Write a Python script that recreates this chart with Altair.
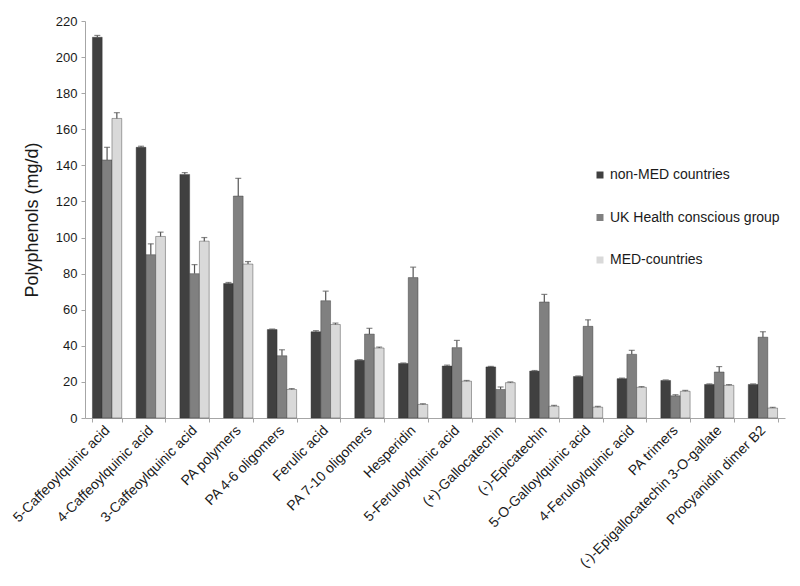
import altair as alt
import pandas as pd

categories = ["5-Caffeoylquinic acid", "4-Caffeoylquinic acid", "3-Caffeoylquinic acid",
              "PA polymers", "PA 4-6 oligomers", "Ferulic acid", "PA 7-10 oligomers",
              "Hesperidin", "5-Feruloylquinic acid", "(+)-Gallocatechin", "(-)-Epicatechin",
              "5-O-Galloylquinic acid", "4-Feruloylquinic acid", "PA trimers",
              "(-)-Epigallocatechin 3-O-gallate", "Procyanidin dimer B2"]
groups = ["non-MED countries", "UK Health conscious group", "MED-countries"]

non_med = [211, 150, 135, 74.5, 49, 47.8, 32, 30.2, 28.8, 28.3, 26, 23, 21.8, 20.8, 18.6, 18.6]
non_med_err = [1, 0.6, 1, 0.6, 0.3, 0.6, 0.3, 0.3, 0.5, 0.3, 0.3, 0.3, 0.3, 0.3, 0.3, 0.3]
uk = [143, 90.5, 80, 123, 34.5, 65, 46.5, 77.8, 39, 15.8, 64.3, 50.8, 35.3, 12.3, 25.5, 44.8]
uk_err = [7, 6, 5, 9.8, 3.3, 5.3, 3.2, 5.8, 4, 1.4, 4.2, 3.6, 2.2, 0.6, 3, 3]
med = [166, 100.6, 98, 85.3, 15.8, 51.8, 38.8, 7.5, 20.4, 19.6, 6.5, 6, 17, 14.8, 18.1, 5.5]
med_err = [3.2, 2.4, 2, 1.4, 0.5, 0.8, 0.5, 0.4, 0.4, 0.4, 0.5, 0.4, 0.4, 0.5, 0.4, 0.4]
y_ticks = [0, 20, 40, 60, 80, 100, 120, 140, 160, 180, 200, 220]

colors = ["#404040", "#808080", "#d9d9d9"]

rows = []
for gi, (g, vals, errs) in enumerate(zip(groups, [non_med, uk, med], [non_med_err, uk_err, med_err])):
    for c, v, e in zip(categories, vals, errs):
        rows.append({"category": c, "group": g, "gorder": gi, "value": v, "top": v + e})
df = pd.DataFrame(rows)

FONT = "Liberation Sans"
AX = "#a6a6a6"
TXT = "#1a1a1a"

x_axis = alt.Axis(title=None, labelAngle=315, labelAlign="right", labelBaseline="middle",
                  labelFontSize=14, labelColor=TXT, labelFont=FONT, labelLimit=400,
                  tickBand="extent", tickColor=AX, domainColor=AX,
                  tickSize=4, labelPadding=6, labelOverlap=False)
y_axis = alt.Axis(title="Polyphenols (mg/d)", values=y_ticks, labelOverlap=False, tickCount=12,
                  grid=False, titleFontSize=18, titleFontWeight="normal", titleFont=FONT,
                  titleColor=TXT, labelFontSize=13, labelFont=FONT, labelColor=TXT,
                  tickColor=AX, domainColor=AX, tickSize=4, labelPadding=4,
                  titlePadding=14)
x_scale = alt.Scale(paddingInner=0.33, paddingOuter=0.17)
y_scale = alt.Scale(domain=[0, 220], nice=False)

x_enc = alt.X("category:N", sort=categories, scale=x_scale, axis=x_axis)
xoff = alt.XOffset("group:N", sort=groups, scale=alt.Scale(paddingInner=0, paddingOuter=0))

bars = alt.Chart(df).mark_bar(stroke="#2a2a2a", strokeWidth=0.4).encode(
    x=x_enc,
    xOffset=xoff,
    y=alt.Y("value:Q", scale=y_scale, axis=y_axis),
    color=alt.Color("group:N", sort=groups, scale=alt.Scale(domain=groups, range=colors),
                    legend=alt.Legend(title=None, orient="none", legendX=508, legendY=147,
                                      symbolType="square", symbolSize=49, rowPadding=28.5,
                                      labelFontSize=14, labelFont=FONT, labelColor=TXT,
                                      labelLimit=400, symbolStrokeWidth=0, labelOffset=3)),
)

err = alt.Chart(df).mark_rule(color="#555555", strokeWidth=1.2).encode(
    x=x_enc,
    xOffset=xoff,
    y=alt.Y("value:Q", scale=y_scale, axis=y_axis),
    y2="top:Q",
)
caps = alt.Chart(df).mark_tick(color="#555555", thickness=1.2, size=6, orient="horizontal").encode(
    x=x_enc,
    xOffset=xoff,
    y=alt.Y("top:Q", scale=y_scale, axis=y_axis),
)

chart = alt.layer(bars, err, caps).properties(
    width=700, height=397, padding={"left": 2, "top": 7, "right": 5, "bottom": 5}
).configure_view(stroke=None)

chart.save("out.html", embed_options={"renderer": "svg", "actions": False})
